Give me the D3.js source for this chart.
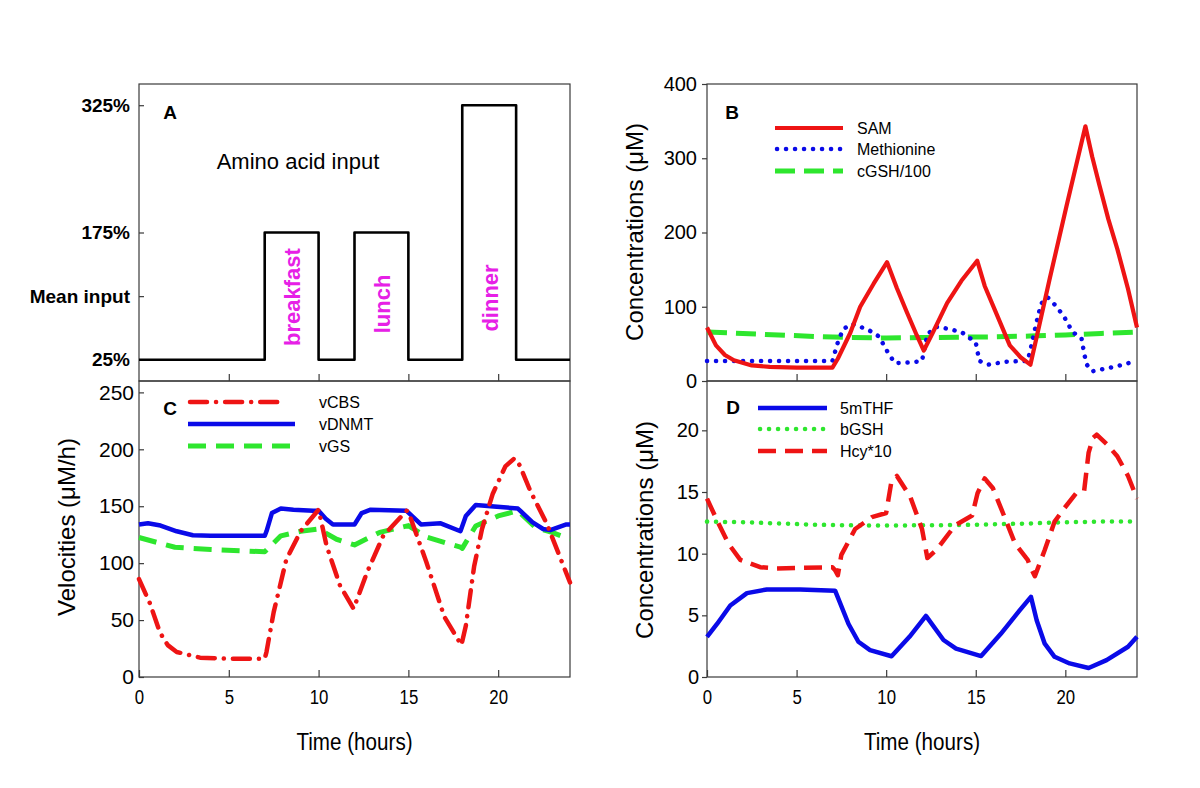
<!DOCTYPE html>
<html><head><meta charset="utf-8">
<script src="https://cdn.jsdelivr.net/npm/d3@7"></script>
<style>
body{margin:0;background:#fff;}
svg{display:block;font-family:"Liberation Sans",Arial,sans-serif;}
</style></head>
<body><svg id="c" width="1200" height="788"></svg>
<script>
// ---------- DATA ----------
const hoursTicks = [0,5,10,15,20];
// Panel A: amino acid input (step function, % of mean)
const inputSteps = [[0,25],[7,175],[10,25],[12,175],[15,25],[18,325],[21,25],[24,25]];
const inputTicks = [25,100,175,325];
const inputTickLabels = ["25%","Mean input","175%","325%"];
const mealNames = ["breakfast","lunch","dinner"];
const mealTimes = [8.5,13.5,19.5];

// Panel B
const samData = [[0,72],[0.5,48],[1,35],[1.5,28],[2.5,21],[3.5,19],[5,18],[7,18],[7.3,30],[8,65],[8.55,100],[9.3,131],[10.05,160],[10.6,125],[11.15,93],[11.7,62],[12.1,41],[12.6,65],[13.4,105],[14.2,135],[15.08,162],[15.5,128],[16.2,88],[16.9,48],[17.5,32],[18.05,22],[18.5,70],[19.13,138],[20.06,235],[21.12,343],[21.5,302],[21.9,264],[22.4,218],[22.9,178],[23.5,124],[24,72]];
const metData = [[0,27],[7,27],[7.3,52],[7.6,70],[8.1,77],[9.0,69],[9.6,60],[10.15,36],[10.5,24],[11.35,25],[12.0,27],[12.3,63],[12.8,73],[13.3,71],[14.2,66],[15.0,52],[15.2,27],[15.7,22],[16.7,26],[17.9,27],[18.1,47],[18.4,80],[18.65,104],[19.0,113],[19.4,103],[19.9,88],[20.4,66],[20.9,58],[21.06,36],[21.2,22],[21.5,13],[22.1,16],[22.9,20],[23.65,25],[24,26]];
const cgshData = [[0,66],[2,64],[4,62],[6,60],[8,58.5],[10,58],[12,58.5],[14,59],[16,59.5],[18,60.5],[20,62],[22,64],[24,66]];
const concTicksB = [0,100,200,300,400];

// Panel C
const vcbsData = [[0,86],[0.6,65],[1.17,39],[1.6,28],[2.1,22],[3.4,17],[5,16],[7,16],[7.1,22],[7.5,57],[8.2,103],[9,128],[10,147],[10.45,115],[11.2,80],[11.95,60],[12.7,92],[13.6,124],[14.9,146],[15.0,145],[16.0,101],[17.0,53],[17.95,28],[18.2,45],[18.66,97],[19.1,130],[19.7,161],[20.4,185],[20.9,192],[21.2,186],[21.8,163],[22.7,135],[23.4,107],[24,83]];
const vdnmtData = [[0,134],[0.5,135],[1.2,133],[2.1,128],[3,124.5],[4,124],[7,124],[7.1,128],[7.4,144],[7.9,148],[8.6,147],[9.7,146],[10,146],[10.4,139],[10.8,134],[12,134],[12.4,144],[12.9,147],[14.9,146],[15.3,140],[15.7,134],[16.8,135],[17.9,128],[18.2,141.5],[18.75,151],[21.1,148],[21.9,136],[22.5,130],[22.9,129],[23.8,134],[24,134]];
const vgsData = [[0,122.5],[2,114],[4,112],[7,110],[7.9,124],[9,128],[10,130],[11,121],[12,116],[13.4,127],[15,133],[16,123],[17.9,114],[18,113],[18.75,132.7],[20,141.5],[21.1,146],[22.1,131],[23,127],[24,121]];
const velTicks = [0,50,100,150,200,250];

// Panel D
const thfData = [[0,3.26],[0.56,4.3],[1.3,5.8],[2.23,6.8],[3.34,7.1],[5.2,7.1],[7.15,7.0],[7.9,4.3],[8.45,2.86],[9.1,2.18],[10.3,1.68],[11.3,3.26],[12.22,4.95],[13.2,3.0],[13.9,2.3],[15.3,1.7],[16.4,3.5],[17.45,5.4],[18.08,6.5],[18.4,4.6],[18.85,2.7],[19.4,1.64],[20.24,1.1],[21.3,0.73],[22.3,1.37],[23.5,2.45],[24,3.26]];
const bgshData = [[0,12.6],[2,12.55],[4,12.45],[6,12.35],[8,12.3],[10,12.28],[12,12.3],[14,12.32],[16,12.38],[18,12.45],[20,12.55],[22,12.6],[24,12.6]];
const hcyData = [[0,14.46],[0.56,12.7],[1.2,10.8],[1.86,9.5],[2.97,8.9],[3.9,8.8],[7.0,8.9],[7.15,8.66],[7.3,8.25],[7.5,9.9],[8.27,12.0],[9.2,12.96],[10.0,13.3],[10.3,15.9],[10.6,16.3],[11.35,14.6],[12.0,12.0],[12.3,9.65],[12.8,10.3],[13.85,12.3],[14.8,13.1],[15.1,14.9],[15.5,16.1],[15.96,15.3],[16.6,13.0],[17.2,10.8],[17.9,9.5],[18.05,8.9],[18.3,8.17],[18.85,10.3],[19.4,12.6],[19.9,13.6],[20.6,14.9],[21.05,15.1],[21.3,18.2],[21.55,19.4],[21.75,19.65],[22.3,18.9],[22.9,17.9],[23.5,16.3],[24,14.46]];
const concTicksD = [0,5,10,15,20];

// ---------- STYLE ----------
const RED="#ee1414", BLUE="#0a0ae8", GREEN="#2ee62e", MAG="#e620e6", FRAME="#3a3a3a";
const svg = d3.select("#c");

const L1=139,R1=570,L2=707,R2=1137,TOP=84,MID=381,BOT=677;
const xA = d3.scaleLinear().domain([0,24]).range([L1,R1]);
const xB = d3.scaleLinear().domain([0,24]).range([L2,R2]);
const yA = d3.scaleLinear().domain([0,350]).range([MID,TOP]);
const yB = d3.scaleLinear().domain([0,400]).range([MID,TOP]);
const yC = d3.scaleLinear().domain([0,260]).range([BOT,MID]);
const yD = d3.scaleLinear().domain([0,24]).range([BOT,MID]);

function frame(x0,y0,x1,y1){
  svg.append("rect").attr("x",x0).attr("y",y0).attr("width",x1-x0).attr("height",y1-y0)
    .attr("fill","none").attr("stroke",FRAME).attr("stroke-width",1.2);
}
function styleAxis(g){
  g.select(".domain").remove();
  g.selectAll(".tick line").attr("stroke",FRAME).attr("stroke-width",1.2);
  g.selectAll("text").attr("fill","#000");
}
function drawLine(data,x,y,color,width,dash,cap,curve){
  const line = d3.line().x(d=>x(d[0])).y(d=>y(d[1])).curve(curve||d3.curveLinear);
  svg.append("path").datum(data).attr("d",line).attr("fill","none")
    .attr("stroke",color).attr("stroke-width",width)
    .attr("stroke-dasharray",dash||null).attr("stroke-linecap",cap||"butt")
    .attr("stroke-linejoin","round");
}
function legendItem(x0,x1,y,tx,label,color,width,dash,cap){
  svg.append("line").attr("x1",x0).attr("x2",x1).attr("y1",y).attr("y2",y)
    .attr("stroke",color).attr("stroke-width",width)
    .attr("stroke-dasharray",dash||null).attr("stroke-linecap",cap||"butt");
  svg.append("text").attr("x",tx).attr("y",y).attr("dy","0.35em")
    .attr("font-size",16).text(label);
}
function letter(x,y,t){
  svg.append("text").attr("x",x).attr("y",y).attr("dy","0.35em").attr("text-anchor","middle")
    .attr("font-size",19).attr("font-weight","bold").text(t);
}
const tickFont = "Liberation Sans,Arial,sans-serif";

// ---------- PANEL A ----------
frame(L1,TOP,R1,MID);
svg.append("g").attr("transform",`translate(${L1},0)`)
  .call(d3.axisLeft(yA).tickValues(inputTicks).tickSize(-5).tickPadding(9)
    .tickFormat((d,i)=>inputTickLabels[i]))
  .call(styleAxis)
  .call(g=>g.selectAll("text").attr("font-size",19).attr("font-weight","bold").attr("font-family",tickFont));
svg.append("g").attr("transform",`translate(0,${MID})`)
  .call(d3.axisBottom(xA).tickValues(hoursTicks.slice(1)).tickSize(-7).tickFormat(""))
  .call(styleAxis);
drawLine(inputSteps, xA, yA, "#000", 2.6, null, "butt", d3.curveStepAfter);
letter(170,112,"A");
svg.append("text").attr("x",298).attr("y",169).attr("text-anchor","middle")
  .attr("font-size",22).text("Amino acid input");
const mealY = [297,304,298];
mealNames.forEach((m,i)=>{
  svg.append("text").attr("transform",`translate(${xA(mealTimes[i])+1},${mealY[i]}) rotate(-90)`)
    .attr("text-anchor","middle").attr("dy","0.35em")
    .attr("font-size",22).attr("font-weight","bold").attr("fill",MAG).text(m);
});

// ---------- PANEL B ----------
frame(L2,TOP,R2,MID);
svg.append("g").attr("transform",`translate(${L2},0)`)
  .call(d3.axisLeft(yB).tickValues(concTicksB).tickSize(5).tickPadding(5))
  .call(styleAxis).call(g=>g.selectAll("text").attr("font-size",20).attr("font-family",tickFont));
svg.append("g").attr("transform",`translate(0,${MID})`)
  .call(d3.axisBottom(xB).tickValues(hoursTicks.slice(1)).tickSize(-7).tickFormat(""))
  .call(styleAxis);
drawLine(cgshData,xB,yB,GREEN,5,"20,9");
drawLine(metData,xB,yB,BLUE,4.5,"0.1,8.9","round");
drawLine(samData,xB,yB,RED,4.2);
letter(732,112,"B");
legendItem(775,843,128,857,"SAM",RED,4.2);
legendItem(777,843,149,857,"Methionine",BLUE,4.5,"0.1,8.9","round");
legendItem(775,843,171,857,"cGSH/100",GREEN,5,"20,9");
svg.append("text").attr("transform","translate(643,232) rotate(-90)").attr("text-anchor","middle")
  .attr("font-size",24).text("Concentrations (\u03bcM)");

// ---------- PANEL C ----------
frame(L1,MID,R1,BOT);
svg.append("g").attr("transform",`translate(${L1},0)`)
  .call(d3.axisLeft(yC).tickValues(velTicks).tickSize(-5).tickPadding(5))
  .call(styleAxis).call(g=>g.selectAll("text").attr("font-size",21).attr("font-family",tickFont));
svg.append("g").attr("transform",`translate(0,${BOT})`)
  .call(d3.axisBottom(xA).tickValues(hoursTicks).tickSize(-7).tickPadding(12))
  .call(styleAxis)
  .call(g=>g.selectAll("text").attr("font-size",21).attr("transform","scale(0.8,1)").attr("font-family",tickFont));
drawLine(vgsData,xA,yC,GREEN,5,"18,10");
drawLine(vdnmtData,xA,yC,BLUE,4.5);
drawLine(vcbsData,xA,yC,RED,4.5,"17,9,0.1,9","round");
letter(170,408,"C");
legendItem(190,285,402,319,"vCBS",RED,4.5,"17,9,0.1,9","round");
legendItem(188,295,424,319,"vDNMT",BLUE,4.5);
legendItem(188,290,446,319,"vGS",GREEN,5,"18,10");
svg.append("text").attr("transform","translate(75,527) rotate(-90)").attr("text-anchor","middle")
  .attr("font-size",24).text("Velocities (\u03bcM/h)");
svg.append("text").attr("transform",`translate(${(L1+R1)/2},750) scale(0.86,1)`).attr("text-anchor","middle")
  .attr("font-size",24).text("Time (hours)");

// ---------- PANEL D ----------
frame(L2,MID,R2,BOT);
svg.append("g").attr("transform",`translate(${L2},0)`)
  .call(d3.axisLeft(yD).tickValues(concTicksD).tickSize(5).tickPadding(3))
  .call(styleAxis).call(g=>g.selectAll("text").attr("font-size",20).attr("font-family",tickFont));
svg.append("g").attr("transform",`translate(0,${BOT})`)
  .call(d3.axisBottom(xB).tickValues(hoursTicks).tickSize(-7).tickPadding(12))
  .call(styleAxis)
  .call(g=>g.selectAll("text").attr("font-size",21).attr("transform","scale(0.8,1)").attr("font-family",tickFont));
drawLine(bgshData,xB,yD,GREEN,4.5,"0.1,8.9","round");
drawLine(hcyData,xB,yD,RED,4.5,"18,9");
drawLine(thfData,xB,yD,BLUE,4.5);
letter(733,407,"D");
legendItem(758,827,408,840,"5mTHF",BLUE,4.5);
legendItem(760,827,429,840,"bGSH",GREEN,4.5,"0.1,8.9","round");
legendItem(758,827,451,840,"Hcy*10",RED,4.5,"18,9");
svg.append("text").attr("transform","translate(653,530) rotate(-90)").attr("text-anchor","middle")
  .attr("font-size",24).text("Concentrations (\u03bcM)");
svg.append("text").attr("transform",`translate(${(L2+R2)/2},750) scale(0.86,1)`).attr("text-anchor","middle")
  .attr("font-size",24).text("Time (hours)");
</script></body></html>
